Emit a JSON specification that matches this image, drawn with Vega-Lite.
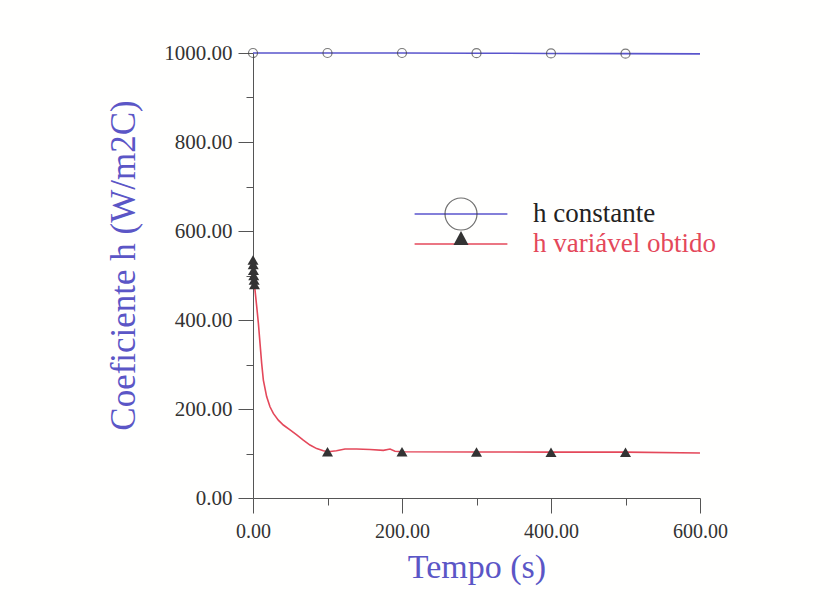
{
  "$schema": "https://vega.github.io/schema/vega-lite/v6.json",
  "width": 447,
  "height": 445,
  "autosize": {"type": "none"},
  "padding": {"left": 253, "top": 53, "right": 131, "bottom": 108},
  "background": "#fffffe",
  "config": {"view": {"stroke": null}, "font": "Liberation Serif", "legend": {"labelFont": "Liberation Serif", "labelFontSize": 27}},
  "datasets": {
    "curves": [
      {"t": 0, "h": 1000, "series": "h constante"},
      {"t": 100, "h": 1000, "series": "h constante"},
      {"t": 200, "h": 1000, "series": "h constante"},
      {"t": 300, "h": 999.5, "series": "h constante"},
      {"t": 400, "h": 999, "series": "h constante"},
      {"t": 500, "h": 998.5, "series": "h constante"},
      {"t": 600, "h": 998, "series": "h constante"},
      {"t": 0, "h": 535, "series": "h variável obtido"},
      {"t": 0.3, "h": 525, "series": "h variável obtido"},
      {"t": 0.6, "h": 512, "series": "h variável obtido"},
      {"t": 1, "h": 500, "series": "h variável obtido"},
      {"t": 1.5, "h": 490, "series": "h variável obtido"},
      {"t": 2, "h": 480, "series": "h variável obtido"},
      {"t": 2.7, "h": 467, "series": "h variável obtido"},
      {"t": 5, "h": 430, "series": "h variável obtido"},
      {"t": 7.2, "h": 393, "series": "h variável obtido"},
      {"t": 9.4, "h": 348, "series": "h variável obtido"},
      {"t": 11.6, "h": 303, "series": "h variável obtido"},
      {"t": 13.9, "h": 265, "series": "h variável obtido"},
      {"t": 18.3, "h": 228, "series": "h variável obtido"},
      {"t": 22.8, "h": 205, "series": "h variável obtido"},
      {"t": 27.3, "h": 190, "series": "h variável obtido"},
      {"t": 34, "h": 175, "series": "h variável obtido"},
      {"t": 40.7, "h": 164, "series": "h variável obtido"},
      {"t": 49.7, "h": 153, "series": "h variável obtido"},
      {"t": 58.7, "h": 142, "series": "h variável obtido"},
      {"t": 67.5, "h": 130, "series": "h variável obtido"},
      {"t": 76.5, "h": 119, "series": "h variável obtido"},
      {"t": 85.5, "h": 111, "series": "h variável obtido"},
      {"t": 94.4, "h": 106, "series": "h variável obtido"},
      {"t": 101, "h": 104, "series": "h variável obtido"},
      {"t": 112, "h": 106, "series": "h variável obtido"},
      {"t": 123.5, "h": 110, "series": "h variável obtido"},
      {"t": 139, "h": 110, "series": "h variável obtido"},
      {"t": 157, "h": 109, "series": "h variável obtido"},
      {"t": 175, "h": 107, "series": "h variável obtido"},
      {"t": 184, "h": 110, "series": "h variável obtido"},
      {"t": 190.6, "h": 105, "series": "h variável obtido"},
      {"t": 200, "h": 104, "series": "h variável obtido"},
      {"t": 300, "h": 103.5, "series": "h variável obtido"},
      {"t": 400, "h": 103, "series": "h variável obtido"},
      {"t": 500, "h": 103, "series": "h variável obtido"},
      {"t": 600, "h": 101, "series": "h variável obtido"}
    ],
    "circles": [
      {"t": 0, "h": 1000, "marker": "circulo"},
      {"t": 100, "h": 1000, "marker": "circulo"},
      {"t": 200, "h": 1000, "marker": "circulo"},
      {"t": 300, "h": 999.5, "marker": "circulo"},
      {"t": 400, "h": 999, "marker": "circulo"},
      {"t": 500, "h": 998.5, "marker": "circulo"}
    ],
    "triangles": [
      {"t": 0, "h": 535, "marker": "triangulo"},
      {"t": 0.3, "h": 525, "marker": "triangulo"},
      {"t": 0.6, "h": 512, "marker": "triangulo"},
      {"t": 1, "h": 500, "marker": "triangulo"},
      {"t": 1.5, "h": 490, "marker": "triangulo"},
      {"t": 2, "h": 480, "marker": "triangulo"},
      {"t": 100, "h": 104, "marker": "triangulo"},
      {"t": 200, "h": 104, "marker": "triangulo"},
      {"t": 300, "h": 103.5, "marker": "triangulo"},
      {"t": 400, "h": 103, "marker": "triangulo"},
      {"t": 500, "h": 103, "marker": "triangulo"}
    ]
  },
  "encoding": {
    "x": {
      "field": "t", "type": "quantitative",
      "scale": {"domain": [0, 600], "nice": false, "zero": false},
      "axis": {
        "title": "Tempo (s)",
        "values": [0, 100, 200, 300, 400, 500, 600],
        "labelExpr": "datum.value % 200 === 0 ? format(datum.value, '.2f') : ''",
        "grid": false,
        "domainColor": "#555", "tickColor": "#555",
        "tickSize": {"condition": {"test": "datum.value % 200 === 0", "value": 15}, "value": 7},
        "labelFont": "Liberation Serif", "labelFontSize": 20, "labelColor": "#333",
        "labelPadding": 8, "labelFlush": false,
        "titleFont": "Liberation Serif", "titleFontSize": 34, "titleFontWeight": "normal",
        "titleColor": "#5b56c6", "titlePadding": 9
      }
    },
    "y": {
      "field": "h", "type": "quantitative",
      "scale": {"domain": [0, 1000], "nice": false},
      "axis": {
        "title": "Coeficiente h (W/m2C)",
        "values": [0, 100, 200, 300, 400, 500, 600, 700, 800, 900, 1000],
        "labelExpr": "datum.value % 200 === 0 ? format(datum.value, '.2f') : ''",
        "grid": false,
        "domainColor": "#555", "tickColor": "#555",
        "tickSize": {"condition": {"test": "datum.value % 200 === 0", "value": 15}, "value": 7},
        "labelFont": "Liberation Serif", "labelFontSize": 21, "labelColor": "#333",
        "labelPadding": 6, "labelFlush": false,
        "titleFont": "Liberation Serif", "titleFontSize": 35, "titleFontWeight": "normal",
        "titleColor": "#5b56c6", "titlePadding": 22, "titleY": 212
      }
    }
  },
  "layer": [
    {
      "data": {"name": "curves"},
      "mark": {"type": "line", "strokeWidth": 1.6},
      "encoding": {
        "color": {
          "field": "series", "type": "nominal",
          "scale": {"domain": ["h constante", "h variável obtido"], "range": ["#5a55cc", "#e4485a"]},
          "legend": {
            "orient": "none", "legendX": 191, "legendY": 144,
            "title": null, "padding": 0, "rowPadding": -3,
            "symbolType": "M-2.9,0L2.9,0", "symbolSize": 1024, "symbolStrokeWidth": 1.6,
            "labelFont": "Liberation Serif", "labelFontSize": 27, "labelOffset": 55,
            "labelLimit": 400,
            "encode": {
              "labels": {"update": {
                "fill": [{"test": "datum.value === 'h variável obtido'", "value": "#e4485a"}, {"value": "#222"}]
              }}
            }
          }
        }
      }
    },
    {
      "data": {"name": "circles"},
      "mark": {"type": "point", "filled": false, "size": 81, "stroke": "#444", "strokeWidth": 1.2},
      "encoding": {
        "shape": {
          "field": "marker", "type": "nominal",
          "scale": {"domain": ["circulo"], "range": ["circle"]},
          "legend": {
            "orient": "none", "legendX": 191, "legendY": 144,
            "title": null, "padding": 0,
            "symbolSize": 1024, "symbolStrokeWidth": 1.2, "symbolStrokeColor": "#333",
            "labelFont": "Liberation Serif", "labelFontSize": 27, "labelOffset": 55,
            "labelExpr": "''"
          }
        }
      }
    },
    {
      "data": {"name": "triangles"},
      "mark": {"type": "point", "shape": "triangle-up", "filled": true, "size": 121, "opacity": 1},
      "encoding": {
        "fill": {
          "field": "marker", "type": "nominal",
          "scale": {"domain": ["triangulo"], "range": ["#333"]},
          "legend": {
            "orient": "none", "legendX": 192, "legendY": 174,
            "title": null, "padding": 0,
            "symbolType": "M0,-0.75L0.47,0.125L-0.47,0.125Z",
            "symbolSize": 1024, "symbolStrokeWidth": 0,
            "labelFont": "Liberation Serif", "labelFontSize": 27, "labelOffset": 55,
            "labelExpr": "''"
          }
        }
      }
    }
  ]
}
